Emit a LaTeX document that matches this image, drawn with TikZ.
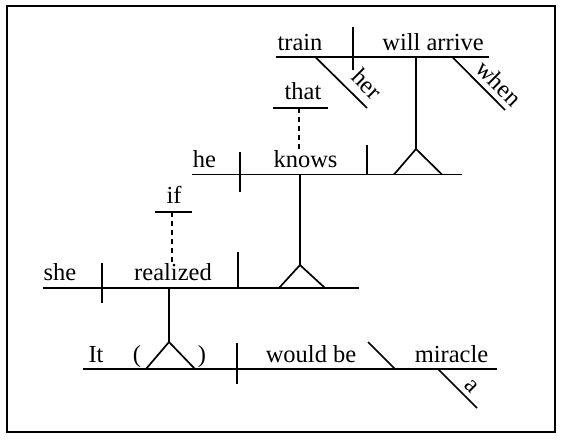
\documentclass[tikz,border=0pt]{standalone}
\usepackage{fontspec}
\setmainfont{Liberation Serif}
\begin{document}
\begin{tikzpicture}[x=1pt,y=-1pt,
  ln/.style={line width=1.7pt, line cap=butt},
  dsh/.style={line width=1.7pt, dash pattern=on 5pt off 4pt},
  wd/.style={inner sep=0pt, anchor=base, font=\fontsize{24.5}{29}\selectfont},
  rwd/.style={inner sep=0pt, anchor=center, rotate=-45, font=\fontsize{24.5}{29}\selectfont}]
\useasboundingbox (0,0) rectangle (562,439);
\draw[line width=2pt] (6.7,5.7) rectangle (555,431.7);

% coordinates
\coordinate (t1) at (276,56.7); \coordinate (t2) at (489,56.7);
\coordinate (td1) at (353,27); \coordinate (td2) at (353,70);
\coordinate (h1) at (315,56.7); \coordinate (h2) at (367,108);
\coordinate (w1) at (452,56.7); \coordinate (w2) at (505,110);
\coordinate (s1) at (416,56.7); \coordinate (apx1) at (416,149);
\coordinate (b1l) at (394,174.5); \coordinate (b1r) at (442,174.5);
\coordinate (th1) at (273,107.7); \coordinate (th2) at (328,107.7);
\coordinate (ds1a) at (299,108); \coordinate (ds1b) at (299,150);
\coordinate (k1) at (192,174.5); \coordinate (k2) at (462,174.5);
\coordinate (kd1) at (240,152); \coordinate (kd2) at (240,192);
\coordinate (kv1) at (367,145); \coordinate (kv2) at (367,174.5);
\coordinate (ks1) at (300,174.5); \coordinate (apx2) at (300,265);
\coordinate (b2l) at (279,288); \coordinate (b2r) at (325,288);
\coordinate (if1) at (155,212); \coordinate (if2) at (192,212);
\coordinate (ds2a) at (172,212); \coordinate (ds2b) at (172,263);
\coordinate (r1) at (43,288); \coordinate (r2) at (359,288);
\coordinate (rd1) at (102,263); \coordinate (rd2) at (102,303);
\coordinate (rv1) at (238,252); \coordinate (rv2) at (238,288);
\coordinate (rs1) at (169,288); \coordinate (apx3) at (169,342);
\coordinate (b3l) at (146,369); \coordinate (b3r) at (195,369);
\coordinate (m1) at (83,369); \coordinate (m2) at (497,369);
\coordinate (md1) at (237,343); \coordinate (md2) at (237,384);
\coordinate (bs1) at (368,342); \coordinate (bs2) at (395,369);
\coordinate (a1) at (438,369); \coordinate (a2) at (477,408);

% lines
\draw[ln] (t1) -- (t2);
\draw[ln] (td1) -- (td2);
\draw[ln] (h1) -- (h2);
\draw[ln] (w1) -- (w2);
\draw[ln] (s1) -- (apx1);
\draw[ln, line join=miter] (b1l) -- (apx1) -- (b1r);
\draw[ln] (th1) -- (th2);
\draw[dsh] (ds1a) -- (ds1b);
\draw[ln] (k1) -- (k2);
\draw[ln] (kd1) -- (kd2);
\draw[ln] (kv1) -- (kv2);
\draw[ln] (ks1) -- (apx2);
\draw[ln, line join=miter] (b2l) -- (apx2) -- (b2r);
\draw[ln] (if1) -- (if2);
\draw[dsh] (ds2a) -- (ds2b);
\draw[ln] (r1) -- (r2);
\draw[ln] (rd1) -- (rd2);
\draw[ln] (rv1) -- (rv2);
\draw[ln] (rs1) -- (apx3);
\draw[ln, line join=miter] (b3l) -- (apx3) -- (b3r);
\draw[ln] (m1) -- (m2);
\draw[ln] (md1) -- (md2);
\draw[ln] (bs1) -- (bs2);
\draw[ln] (a1) -- (a2);

% words
\node[wd] (wtrain) at (300,50) {train};
\node[wd] (warrive) at (433,50) {will arrive};
\node[wd] (wthat) at (303,99) {that};
\node[wd] (whe) at (204.5,167) {he};
\node[wd] (wknows) at (305.5,167) {knows};
\node[wd] (wif) at (174,203) {if};
\node[wd] (wshe) at (60,280) {she};
\node[wd] (wreal) at (173,280) {realized};
\node[wd] (wit) at (96,362) {It};
\node[wd] (wpl) at (137,362) {(};
\node[wd] (wpr) at (202,362) {)};
\node[wd] (wbe) at (311,362) {would be};
\node[wd] (wmir) at (451.5,362) {miracle};
\node[rwd] (wher) at (367,84) {her};
\node[rwd] (wwhen) at (499,83) {when};
\node[rwd] (wa) at (471,386) {a};
\end{tikzpicture}
\end{document}
